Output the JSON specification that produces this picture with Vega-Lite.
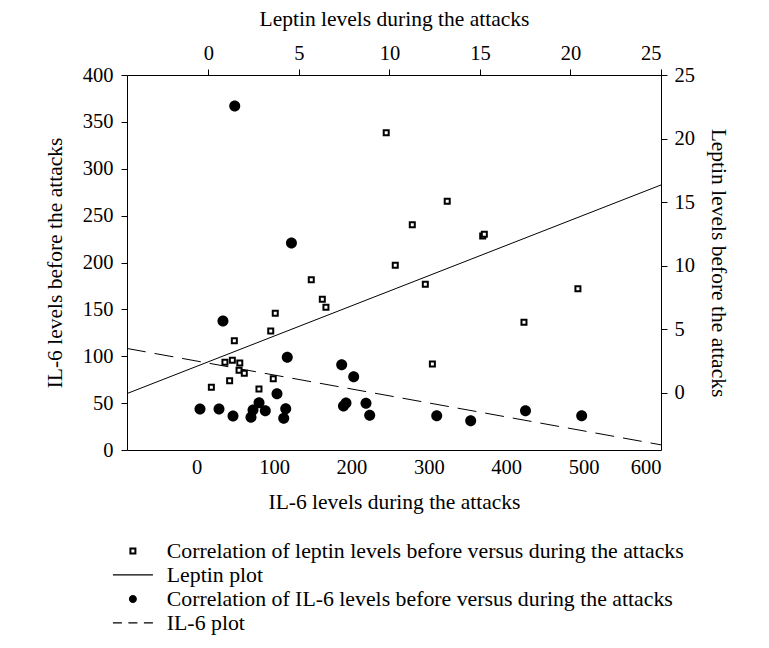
{
  "$schema": "https://vega.github.io/schema/vega-lite/v6.json",
  "width": 534,
  "height": 375,
  "autosize": {"type": "none"},
  "padding": {"left": 127, "top": 75, "right": 108, "bottom": 198},
  "background": "white",
  "config": {
    "font": "Liberation Serif",
    "view": {"stroke": null},
    "axis": {
      "domainColor": "black", "tickColor": "black", "labelColor": "black", "titleColor": "black",
      "labelFont": "Liberation Serif", "titleFont": "Liberation Serif",
      "labelFontSize": 20.5, "titleFontSize": 21.5, "titleFontWeight": "normal",
      "grid": false, "tickSize": 6, "domainWidth": 1, "tickWidth": 1
    }
  },
  "datasets": {
    "il6": [
      {"il6_during": 49.2, "il6_before": 366.9, "series": "Correlation of IL-6 levels before versus during the attacks"},
      {"il6_during": 122.5, "il6_before": 220.8, "series": "Correlation of IL-6 levels before versus during the attacks"},
      {"il6_during": 34.0, "il6_before": 137.6, "series": "Correlation of IL-6 levels before versus during the attacks"},
      {"il6_during": 117.1, "il6_before": 98.9, "series": "Correlation of IL-6 levels before versus during the attacks"},
      {"il6_during": 187.4, "il6_before": 91.0, "series": "Correlation of IL-6 levels before versus during the attacks"},
      {"il6_during": 202.9, "il6_before": 78.2, "series": "Correlation of IL-6 levels before versus during the attacks"},
      {"il6_during": 103.8, "il6_before": 60.1, "series": "Correlation of IL-6 levels before versus during the attacks"},
      {"il6_during": 4.3, "il6_before": 43.7, "series": "Correlation of IL-6 levels before versus during the attacks"},
      {"il6_during": 28.9, "il6_before": 43.7, "series": "Correlation of IL-6 levels before versus during the attacks"},
      {"il6_during": 47.0, "il6_before": 36.3, "series": "Correlation of IL-6 levels before versus during the attacks"},
      {"il6_during": 80.6, "il6_before": 50.5, "series": "Correlation of IL-6 levels before versus during the attacks"},
      {"il6_during": 72.8, "il6_before": 42.7, "series": "Correlation of IL-6 levels before versus during the attacks"},
      {"il6_during": 70.2, "il6_before": 34.9, "series": "Correlation of IL-6 levels before versus during the attacks"},
      {"il6_during": 88.7, "il6_before": 41.9, "series": "Correlation of IL-6 levels before versus during the attacks"},
      {"il6_during": 115.1, "il6_before": 44.1, "series": "Correlation of IL-6 levels before versus during the attacks"},
      {"il6_during": 112.5, "il6_before": 33.8, "series": "Correlation of IL-6 levels before versus during the attacks"},
      {"il6_during": 189.7, "il6_before": 46.9, "series": "Correlation of IL-6 levels before versus during the attacks"},
      {"il6_during": 193.0, "il6_before": 50.1, "series": "Correlation of IL-6 levels before versus during the attacks"},
      {"il6_during": 218.8, "il6_before": 49.8, "series": "Correlation of IL-6 levels before versus during the attacks"},
      {"il6_during": 223.6, "il6_before": 37.0, "series": "Correlation of IL-6 levels before versus during the attacks"},
      {"il6_during": 310.2, "il6_before": 36.6, "series": "Correlation of IL-6 levels before versus during the attacks"},
      {"il6_during": 354.1, "il6_before": 31.3, "series": "Correlation of IL-6 levels before versus during the attacks"},
      {"il6_during": 424.9, "il6_before": 41.9, "series": "Correlation of IL-6 levels before versus during the attacks"},
      {"il6_during": 497.5, "il6_before": 36.6, "series": "Correlation of IL-6 levels before versus during the attacks"}
    ],
    "leptin": [
      {"leptin_during": 9.82, "leptin_before": 20.46},
      {"leptin_during": 13.19, "leptin_before": 15.06},
      {"leptin_during": 11.26, "leptin_before": 13.22},
      {"leptin_during": 15.15, "leptin_before": 12.33},
      {"leptin_during": 15.24, "leptin_before": 12.47},
      {"leptin_during": 10.32, "leptin_before": 10.03},
      {"leptin_during": 11.98, "leptin_before": 8.53},
      {"leptin_during": 5.68, "leptin_before": 8.90},
      {"leptin_during": 6.29, "leptin_before": 7.35},
      {"leptin_during": 6.49, "leptin_before": 6.73},
      {"leptin_during": 3.69, "leptin_before": 6.25},
      {"leptin_during": 20.41, "leptin_before": 8.19},
      {"leptin_during": 17.43, "leptin_before": 5.55},
      {"leptin_during": 3.44, "leptin_before": 4.86},
      {"leptin_during": 1.43, "leptin_before": 4.10},
      {"leptin_during": 0.91, "leptin_before": 2.40},
      {"leptin_during": 1.32, "leptin_before": 2.56},
      {"leptin_during": 1.73, "leptin_before": 2.34},
      {"leptin_during": 1.69, "leptin_before": 1.77},
      {"leptin_during": 1.98, "leptin_before": 1.53},
      {"leptin_during": 3.58, "leptin_before": 1.11},
      {"leptin_during": 1.17, "leptin_before": 0.95},
      {"leptin_during": 0.16, "leptin_before": 0.43},
      {"leptin_during": 2.79, "leptin_before": 0.30},
      {"leptin_during": 12.37, "leptin_before": 2.27}
    ],
    "il6_fit": [
      {"il6_during": -90, "il6_before": 108.3},
      {"il6_during": 600, "il6_before": 5.5}
    ],
    "leptin_fit": [
      {"leptin_during": -4.5, "leptin_before": -0.06},
      {"leptin_during": 25, "leptin_before": 16.35}
    ]
  },
  "layer": [
    {
      "layer": [
        {
          "data": {"name": "il6"},
          "mark": {"type": "point", "filled": true, "fill": "black", "size": 189, "opacity": 1},
          "encoding": {
            "x": {"field": "il6_during", "type": "quantitative",
              "scale": {"domain": [-90, 600], "nice": false, "zero": false},
              "axis": {"orient": "bottom", "title": "IL-6 levels during the attacks", "values": [0, 100, 200, 300, 400, 500, 600], "ticks": false, "labelPadding": 7, "titlePadding": 14}},
            "y": {"field": "il6_before", "type": "quantitative",
              "scale": {"domain": [0, 400], "nice": false, "zero": false},
              "axis": {"orient": "left", "title": "IL-6 levels before the attacks", "values": [0, 50, 100, 150, 200, 250, 300, 350, 400], "labelPadding": 8, "titlePadding": 16}},
            "shape": {"field": "series", "type": "nominal",
              "scale": {
                "domain": [
                  "Correlation of leptin levels before versus during the attacks",
                  "Leptin plot",
                  "Correlation of IL-6 levels before versus during the attacks",
                  "IL-6 plot"
                ],
                "range": [
                  "M-0.7,-0.7H0.7V0.7H-0.7ZM-0.3,-0.3V0.3H0.3V-0.3Z",
                  "M-4,-0.11H4V0.11H-4Z",
                  "M0.8,0A0.8,0.8,0,1,1,-0.8,0A0.8,0.8,0,1,1,0.8,0Z",
                  "M-4,-0.11H-2.2V0.11H-4ZM-0.9,-0.11H0.9V0.11H-0.9ZM2.2,-0.11H4V0.11H2.2Z"
                ]
              },
              "legend": {
                "orient": "none", "legendX": -5, "legendY": 465, "title": null, "padding": 0,
                "labelFont": "Liberation Serif", "labelFontSize": 21.8, "labelColor": "black", "labelLimit": 0,
                "labelOffset": 23, "rowPadding": 1, "symbolSize": 100,
                "symbolStrokeWidth": 1, "symbolFillColor": "black", "symbolOpacity": 1
              }
            }
          }
        },
        {
          "data": {"name": "il6_fit"},
          "mark": {"type": "line", "color": "black", "strokeWidth": 1, "strokeDash": [19, 9]},
          "encoding": {
            "x": {"field": "il6_during", "type": "quantitative"},
            "y": {"field": "il6_before", "type": "quantitative"}
          }
        }
      ]
    },
    {
      "layer": [
        {
          "data": {"name": "leptin"},
          "mark": {"type": "point", "shape": "square", "size": 25, "fill": "white", "stroke": "black", "strokeWidth": 2, "opacity": 1, "filled": false},
          "encoding": {
            "x": {"field": "leptin_during", "type": "quantitative",
              "scale": {"domain": [-4.5, 25], "nice": false, "zero": false},
              "axis": {"orient": "top", "title": "Leptin levels during the attacks", "values": [0, 5, 10, 15, 20, 25], "labelPadding": 6, "titlePadding": 13}},
            "y": {"field": "leptin_before", "type": "quantitative",
              "scale": {"domain": [-4.5, 25], "nice": false, "zero": false},
              "axis": {"orient": "right", "title": "Leptin levels before the attacks", "values": [0, 5, 10, 15, 20, 25], "labelPadding": 7, "titlePadding": 12}}
          }
        },
        {
          "data": {"name": "leptin_fit"},
          "mark": {"type": "line", "color": "black", "strokeWidth": 1},
          "encoding": {
            "x": {"field": "leptin_during", "type": "quantitative"},
            "y": {"field": "leptin_before", "type": "quantitative"}
          }
        }
      ]
    }
  ],
  "resolve": {"scale": {"x": "independent", "y": "independent"}}
}
